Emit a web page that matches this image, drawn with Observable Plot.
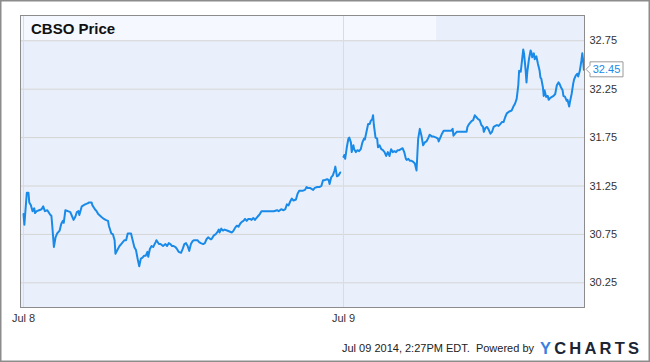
<!DOCTYPE html>
<html>
<head>
<meta charset="utf-8">
<script src="https://cdn.jsdelivr.net/npm/d3@7"></script>
<script src="https://cdn.jsdelivr.net/npm/@observablehq/plot@0.6"></script>
<style>
  html, body { margin: 0; padding: 0; background: #fff; }
  svg { display: block; }
</style>
</head>
<body>
<div id="chart"></div>
<script>
// ---- data (minutes since market open, price) ----
const jul8 = [[0,30.96],[1,30.85],[4,31.18],[6,31.18],[7,31.08],[9,31.05],[11,30.99],[13,31.02],[14,30.97],[16,30.99],[19,31.00],[22,31.01],[24,31.04],[26,30.99],[29,31.00],[32,30.96],[34,30.94],[35,30.84],[37,30.62],[39,30.72],[41,30.76],[44,30.79],[46,30.86],[48,30.89],[49,30.87],[51,31.00],[54,30.99],[57,30.98],[59,30.94],[61,30.90],[63,30.93],[65,30.98],[67,30.99],[68,30.95],[71,31.04],[73,31.05],[75,31.06],[78,31.07],[80,31.08],[83,31.08],[84,31.05],[87,31.01],[89,30.99],[91,30.96],[95,30.93],[98,30.91],[100,30.90],[103,30.89],[104,30.84],[107,30.76],[109,30.75],[111,30.69],[112,30.55],[115,30.60],[117,30.63],[119,30.65],[121,30.67],[123,30.69],[125,30.69],[127,30.76],[129,30.76],[131,30.76],[133,30.69],[135,30.62],[137,30.59],[139,30.50],[141,30.42],[143,30.50],[145,30.51],[147,30.53],[149,30.53],[151,30.57],[152,30.52],[154,30.60],[156,30.63],[158,30.62],[161,30.67],[162,30.69],[165,30.65],[167,30.65],[170,30.63],[173,30.65],[175,30.63],[177,30.66],[179,30.65],[181,30.63],[183,30.63],[185,30.62],[187,30.60],[189,30.57],[192,30.56],[194,30.60],[196,30.65],[198,30.66],[200,30.63],[202,30.58],[204,30.65],[206,30.68],[208,30.69],[210,30.69],[212,30.69],[214,30.67],[216,30.66],[219,30.65],[221,30.66],[223,30.70],[225,30.72],[228,30.70],[229,30.70],[232,30.74],[234,30.75],[236,30.77],[238,30.80],[239,30.77],[241,30.81],[243,30.79],[245,30.80],[248,30.79],[251,30.78],[254,30.77],[256,30.79],[258,30.82],[260,30.84],[262,30.83],[264,30.86],[266,30.88],[268,30.89],[270,30.91],[272,30.89],[274,30.91],[276,30.91],[278,30.90],[280,30.92],[282,30.90],[284,30.92],[286,30.94],[288,30.96],[290,30.99],[293,30.99],[297,30.99],[301,30.99],[305,30.99],[309,31.00],[311,30.99],[314,31.01],[317,31.00],[319,31.01],[321,31.06],[323,31.05],[325,31.09],[327,31.12],[329,31.10],[332,31.11],[334,31.17],[336,31.20],[338,31.20],[340,31.20],[343,31.21],[345,31.24],[346,31.23],[349,31.23],[351,31.22],[353,31.21],[355,31.23],[358,31.24],[361,31.24],[363,31.25],[365,31.31],[367,31.31],[370,31.32],[372,31.31],[373,31.27],[375,31.34],[377,31.36],[379,31.41],[380,31.45],[382,31.35],[384,31.36],[386,31.39]];

const jul9 = [[0,31.55],[1,31.57],[2,31.53],[4,31.65],[6,31.74],[7,31.75],[9,31.70],[10,31.60],[12,31.67],[13,31.63],[15,31.60],[17,31.62],[19,31.61],[21,31.63],[23,31.70],[25,31.74],[26,31.73],[28,31.81],[30,31.89],[32,31.89],[33,31.92],[35,31.94],[36,31.98],[37,31.88],[39,31.75],[41,31.74],[42,31.65],[44,31.67],[46,31.63],[48,31.62],[50,31.60],[52,31.56],[54,31.60],[56,31.56],[58,31.63],[60,31.60],[62,31.61],[64,31.60],[66,31.62],[68,31.62],[70,31.63],[72,31.64],[74,31.60],[76,31.53],[77,31.52],[79,31.53],[81,31.51],[83,31.51],[85,31.50],[87,31.48],[89,31.41],[90,31.58],[91,31.74],[93,31.84],[95,31.77],[97,31.67],[99,31.70],[101,31.71],[103,31.74],[105,31.78],[108,31.76],[110,31.76],[113,31.75],[115,31.74],[116,31.71],[118,31.75],[120,31.79],[122,31.82],[126,31.82],[128,31.82],[131,31.82],[133,31.84],[134,31.77],[136,31.79],[138,31.81],[142,31.81],[146,31.81],[150,31.81],[151,31.86],[153,31.89],[156,31.92],[158,31.93],[160,31.98],[162,31.96],[164,31.94],[166,31.93],[168,31.88],[170,31.86],[171,31.81],[173,31.85],[175,31.86],[177,31.83],[179,31.79],[181,31.81],[183,31.86],[185,31.87],[187,31.88],[189,31.87],[191,31.89],[193,31.91],[195,31.91],[197,31.96],[199,32.00],[202,32.02],[205,32.03],[207,32.07],[209,32.10],[211,32.15],[213,32.29],[214,32.44],[216,32.43],[218,32.58],[219,32.66],[220,32.62],[222,32.44],[223,32.32],[224,32.43],[226,32.56],[228,32.65],[229,32.63],[230,32.58],[232,32.62],[233,32.56],[235,32.59],[237,32.51],[239,32.44],[240,32.37],[241,32.36],[243,32.27],[244,32.18],[245,32.24],[247,32.17],[249,32.18],[250,32.14],[252,32.16],[254,32.17],[256,32.18],[258,32.20],[260,32.29],[262,32.32],[263,32.31],[265,32.27],[267,32.24],[268,32.18],[270,32.17],[272,32.13],[273,32.14],[275,32.07],[276,32.12],[278,32.20],[280,32.31],[281,32.35],[283,32.39],[285,32.41],[286,32.38],[288,32.44],[290,32.55],[291,32.62],[292,32.55],[293,32.45]];

const days = ["Jul 8", "Jul 9"];
const dayOffsets = [0, 390];          // trading minutes per session
const xTicks = [0, 390];
const xTickLabels = ["Jul 8", "Jul 9"];
const yTicks = [30.25, 30.75, 31.25, 31.75, 32.25, 32.75];
const lastPrice = 32.45;
const titleText = "CBSO Price";
const footerText = "Jul 09 2014, 2:27PM EDT.  Powered by";

// ---- build table ----
const rows = [];
[jul8, jul9].forEach((arr, i) => {
  arr.forEach(([m, p]) => rows.push({t: m + dayOffsets[i], price: p, day: days[i]}));
});

const W = 650, H = 362;
const mL = 20, mR = 66, mT = 15, mB = 55;
const FONT = "'Liberation Sans', Arial, Helvetica, sans-serif";

const svg = Plot.plot({
  width: W, height: H,
  marginLeft: mL, marginRight: mR, marginTop: mT, marginBottom: mB,
  style: {background: "transparent", fontFamily: FONT, fontSize: "11px", color: "#333", overflow: "visible"},
  x: {domain: [-3.7, 683.7], ticks: xTicks, tickFormat: d => xTickLabels[xTicks.indexOf(d)], tickSize: 0, tickPadding: 7, label: null},
  y: {domain: [29.995, 33.011], axis: "right", ticks: yTicks, tickFormat: d3.format(".2f"), tickSize: 0, tickPadding: 5, label: null},
  marks: [
    Plot.ruleY(yTicks, {stroke: "#d4d4d4", strokeWidth: 1}),
    Plot.ruleX(xTicks, {stroke: "#d8dce4", strokeWidth: 1}),
    Plot.line(rows, {x: "t", y: "price", z: "day", stroke: "#1a8ae8", strokeWidth: 2, curve: "linear"}),
    Plot.frame({stroke: "#8c8c8c", strokeWidth: 1})
  ]
});

const root = d3.select(svg);
const ys = svg.scale ? svg.scale("y") : null;
const yTop = ys ? ys.apply(32.75) : 40.3;
const yLast = ys ? ys.apply(lastPrice) : 69.3;
const plotW = W - mL - mR, plotH = H - mT - mB;

// background + title band (behind all marks)
root.insert("rect", ":first-child")
  .attr("x", mL).attr("y", mT).attr("width", 416).attr("height", yTop - mT)
  .attr("fill", "#f5f8fe");
root.insert("rect", ":first-child")
  .attr("x", mL).attr("y", mT).attr("width", plotW).attr("height", plotH)
  .attr("fill", "#eaf0fb");
root.insert("rect", ":first-child")
  .attr("x", 0).attr("y", 0).attr("width", W).attr("height", H).attr("fill", "#fff");

// outer border
root.append("rect")
  .attr("x", 0.75).attr("y", 0.75).attr("width", W - 1.5).attr("height", H - 1.5)
  .attr("fill", "none").attr("stroke", "#8c8c8c").attr("stroke-width", 1.5);

// title
root.append("text")
  .attr("x", 31).attr("y", 34).attr("text-anchor", "start")
  .attr("font-family", FONT).attr("font-size", 15).attr("font-weight", "bold")
  .attr("fill", "#111").text(titleText);

// last price callout
const tipX = mL + plotW + 2, bx = tipX + 4, bw = 33, bh = 15;
root.append("path")
  .attr("d", `M${tipX},${yLast} L${bx},${yLast - 4} L${bx},${yLast - bh/2} L${bx + bw},${yLast - bh/2} L${bx + bw},${yLast + bh/2} L${bx},${yLast + bh/2} L${bx},${yLast + 4} Z`)
  .attr("fill", "#fff").attr("stroke", "#9a9a9a").attr("stroke-width", 1);
root.append("text")
  .attr("x", bx + bw/2).attr("y", yLast).attr("dy", "0.35em")
  .attr("text-anchor", "middle")
  .attr("font-family", FONT).attr("font-size", 11).attr("fill", "#1a8ae8")
  .text(d3.format(".2f")(lastPrice));

// footer
root.append("text")
  .attr("x", 534).attr("y", 352).attr("text-anchor", "end")
  .attr("font-family", FONT).attr("font-size", 11).attr("fill", "#222")
  .attr("xml:space", "preserve").style("white-space", "pre")
  .text(footerText);
const logo = root.append("text")
  .attr("x", 540).attr("y", 353.5).attr("text-anchor", "start")
  .attr("font-family", FONT).attr("font-size", 16.5).attr("font-weight", "bold")
  .attr("letter-spacing", "3.2px");
logo.append("tspan").attr("fill", "#3b7fe3").text("Y");
logo.append("tspan").attr("fill", "#1c2535").text("CHARTS");

document.getElementById("chart").appendChild(svg);
</script>
</body>
</html>
